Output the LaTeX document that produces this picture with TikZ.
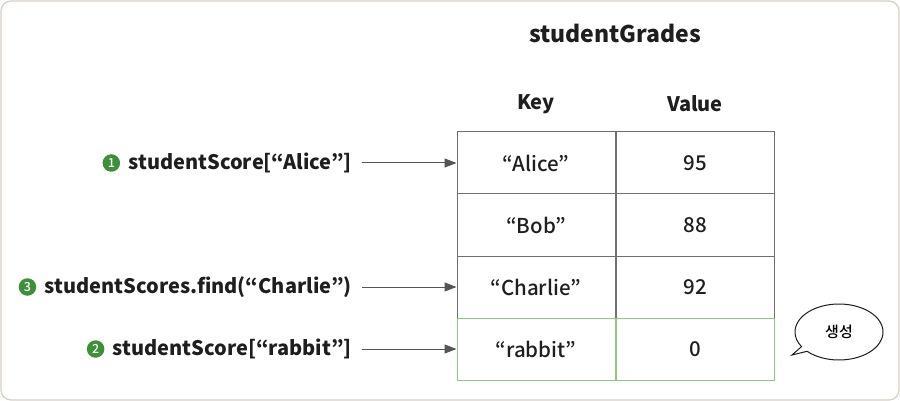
\documentclass[tikz,border=0pt]{standalone}
\usepackage{fontspec}
\setmainfont{Noto Sans CJK KR}
\newfontfamily\medfont{Noto Sans CJK KR Medium}
\usetikzlibrary{positioning,arrows.meta,shapes.callouts}

\definecolor{framec}{HTML}{D5CFC3}
\definecolor{linec}{HTML}{707070}
\definecolor{newc}{HTML}{8CC87F}
\definecolor{arrc}{HTML}{555555}
\definecolor{bulc}{HTML}{3E8E3A}
\definecolor{txtc}{HTML}{1E1E1E}

\tikzset{
  cell/.style={draw=linec, line width=1pt, minimum width=158pt, minimum height=62pt,
    inner sep=0pt, font=\fontsize{20.5}{24}\medfont, text=txtc},
  newcell/.style={cell, draw=newc},
  head/.style={font=\fontsize{20}{24}\selectfont\bfseries, text=txtc},
  query/.style={anchor=east, inner sep=0pt, font=\fontsize{20}{24}\selectfont\bfseries, text=txtc},
  bullet/.style={circle, fill=bulc, text=white, minimum size=17.5pt, inner sep=0pt,
    font=\fontsize{12.5}{13}\medfont},
  arr/.style={draw=arrc, line width=1pt, -{Triangle[length=12pt,width=9pt]}, shorten <=10pt}
}

\begin{document}
\begin{tikzpicture}[x=1pt,y=-1pt]
  \useasboundingbox (0,0) rectangle (900,401);
  \draw [framec, line width=1.2pt, rounded corners=10pt] (1,1) rectangle (899,400);

  % map title and column heads
  \node [font=\fontsize{23}{26}\selectfont\bfseries, text=txtc] (title) at (615,33) {studentGrades};
  \node [head] (keyh) at (536,104) {Key};
  \node [head] (valh) at (695,104) {Value};

  % table rows
  \foreach \k/\v [count=\i] in {{“Alice”}/95, {“Bob”}/88, {“Charlie”}/92}
  {
    \node [cell] (k\i) at (536,101+62*\i) {\k};
    \node [cell] (v\i) at (695,101+62*\i) {\v};
  }
  \node [newcell] (k4) at (536,349) {“rabbit”};
  \node [newcell] (v4) at (695,349) {0};

  % lookups
  \node [query] (q1) at (352,163) {studentScore[“Alice”]};
  \node [query] (q3) at (352,287) {studentScores.find(“Charlie”)};
  \node [query] (q2) at (352,349) {studentScore[“rabbit”]};
  \foreach \q in {1,2,3}
    \node [bullet, left=8pt of q\q] (b\q) {\q};

  \draw [arr] (q1) -- (k1);
  \draw [arr] (q3) -- (k3);
  \draw [arr] (q2) -- (k4);

  % created entry
  \node [ellipse callout, draw=txtc, line width=1pt, fill=white, minimum width=88pt,
    minimum height=56pt, callout absolute pointer={(792,355)}, callout pointer arc=12,
    font=\fontsize{15}{17}\medfont] (born) at (839,332) {생성};
\end{tikzpicture}
\end{document}
